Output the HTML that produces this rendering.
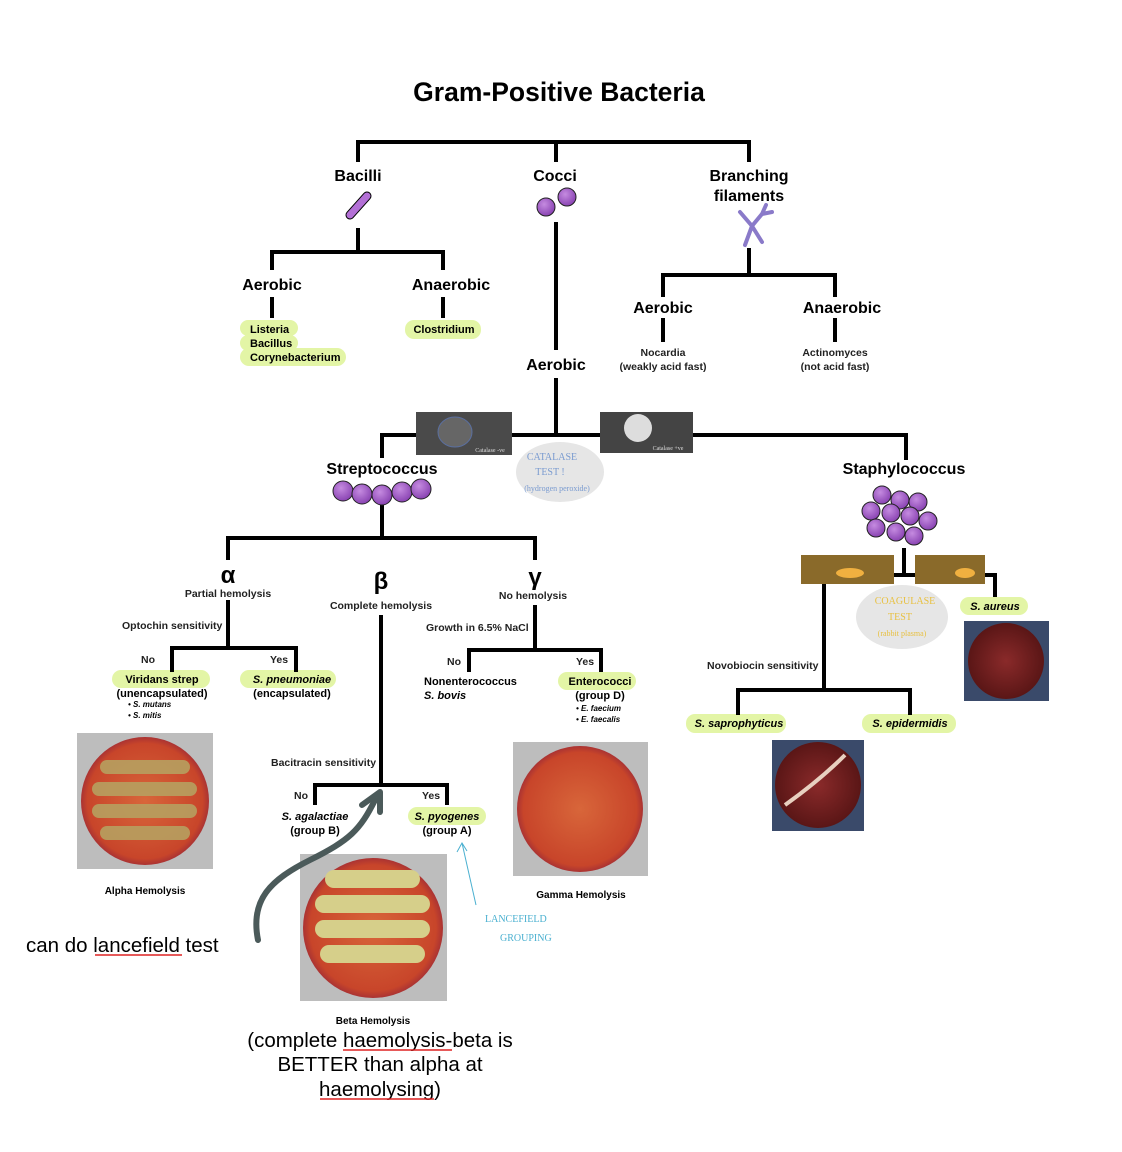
<!DOCTYPE html>
<html><head><meta charset="utf-8"><style>
html,body{margin:0;padding:0;background:#fff;}
svg{display:block;font-family:"Liberation Sans",sans-serif;}
.b{font-weight:bold;}
</style></head><body>
<svg width="1122" height="1152" viewBox="0 0 1122 1152" xmlns="http://www.w3.org/2000/svg">
<defs>
<radialGradient id="p" cx="40%" cy="35%" r="65%"><stop offset="0" stop-color="#c58be0"/><stop offset="1" stop-color="#8a44b3"/></radialGradient>
<radialGradient id="dish" cx="50%" cy="50%" r="50%"><stop offset="0" stop-color="#d8663a"/><stop offset="0.9" stop-color="#c8452a"/><stop offset="1" stop-color="#a33"/></radialGradient>
<radialGradient id="dish2" cx="50%" cy="50%" r="50%"><stop offset="0" stop-color="#8a2a2a"/><stop offset="1" stop-color="#5a1616"/></radialGradient>
</defs>
<g fill="#e3f5a6">
<rect x="240" y="320" width="58" height="16" rx="8"/><rect x="240" y="335" width="58" height="16" rx="8"/><rect x="240" y="348" width="106" height="18" rx="9"/>
<rect x="405" y="320" width="76" height="19" rx="9"/>
<rect x="112" y="670" width="98" height="18" rx="9"/>
<rect x="240" y="670" width="96" height="18" rx="9"/>
<rect x="558" y="672" width="78" height="18" rx="9"/>
<rect x="408" y="807" width="78" height="18" rx="9"/>
<rect x="686" y="714" width="100" height="19" rx="9"/>
<rect x="862" y="714" width="94" height="19" rx="9"/>
<rect x="960" y="597" width="68" height="18" rx="9"/>
</g>
<g fill="#e6e6e6">
<ellipse cx="560" cy="472" rx="44" ry="30"/>
<ellipse cx="902" cy="617" rx="46" ry="32"/>
</g>
<text x="559" y="101" text-anchor="middle" class="b" font-size="26.5">Gram-Positive Bacteria</text>
<g stroke="#000" stroke-width="4" fill="none">
<path d="M358 162V142H749V162M556 142V162"/>
<path d="M358 228V252M272 270V252H443V270M272 297V318M443 297V318"/>
<path d="M556 222V350M556 378V435"/>
<path d="M749 248V275M663 297V275H835V297M663 318V342M835 318V342"/>
<path d="M382 458V435H906V460"/>
<path d="M382 505V538M228 560V538H535V560"/>
<path d="M228 600V648M172 672V648H296V672"/>
<path d="M381 615V785M315 805V785H447V805"/>
<path d="M535 605V650M469 672V650H601V672"/>
<path d="M904 548V575M894 575H915M985 575H995V597"/>
<path d="M824 584V690M738 715V690H910V715"/>
</g>
<g font-size="16" class="b" text-anchor="middle">
<text x="358" y="181">Bacilli</text><text x="555" y="181">Cocci</text>
<text x="749" y="181">Branching</text><text x="749" y="201">filaments</text>
<text x="272" y="290">Aerobic</text><text x="451" y="290">Anaerobic</text>
<text x="556" y="370">Aerobic</text>
<text x="663" y="313">Aerobic</text><text x="842" y="313">Anaerobic</text>
<text x="382" y="474">Streptococcus</text><text x="904" y="474">Staphylococcus</text>
</g>
<g font-size="11" class="b">
<text x="250" y="333">Listeria</text><text x="250" y="347">Bacillus</text><text x="250" y="361">Corynebacterium</text>
<text x="444" y="333" text-anchor="middle">Clostridium</text>
</g>
<g font-size="10.5" text-anchor="middle" class="b" fill="#222">
<text x="663" y="356">Nocardia</text><text x="663" y="370">(weakly acid fast)</text>
<text x="835" y="356">Actinomyces</text><text x="835" y="370">(not acid fast)</text>
</g>
<line x1="350" y1="215" x2="367" y2="196" stroke="#000" stroke-width="9" stroke-linecap="round"/>
<line x1="350" y1="215" x2="367" y2="196" stroke="#b370d6" stroke-width="7" stroke-linecap="round"/>
<g fill="url(#p)" stroke="#222" stroke-width="1">
<circle cx="546" cy="207" r="9"/><circle cx="567" cy="197" r="9"/>
<circle cx="343" cy="491" r="10"/><circle cx="362" cy="494" r="10"/><circle cx="382" cy="495" r="10"/><circle cx="402" cy="492" r="10"/><circle cx="421" cy="489" r="10"/>
<circle cx="882" cy="495" r="9"/><circle cx="900" cy="500" r="9"/><circle cx="918" cy="502" r="9"/>
<circle cx="871" cy="511" r="9"/><circle cx="891" cy="513" r="9"/><circle cx="910" cy="516" r="9"/><circle cx="928" cy="521" r="9"/>
<circle cx="876" cy="528" r="9"/><circle cx="896" cy="532" r="9"/><circle cx="914" cy="536" r="9"/>
</g>
<path d="M740 212L752 226L745 245M752 226L762 242M752 226L762 214L772 212M762 214L766 205" stroke="#8a7ac9" stroke-width="4" fill="none" stroke-linecap="round"/>
<rect x="416" y="412" width="96" height="43" fill="#4a4a4a"/><ellipse cx="455" cy="432" rx="17" ry="15" fill="#666" stroke="#5a6fa0"/>
<text x="490" y="452" font-size="6" fill="#ddd" text-anchor="middle" font-family="Liberation Serif">Catalase -ve</text>
<rect x="600" y="412" width="93" height="41" fill="#444"/><circle cx="638" cy="428" r="14" fill="#ddd"/>
<text x="668" y="450" font-size="6" fill="#ddd" text-anchor="middle" font-family="Liberation Serif">Catalase +ve</text>
<g fill="#7a9bd0" font-size="10" text-anchor="middle" font-family="Liberation Serif">
<text x="552" y="460">CATALASE</text><text x="550" y="475">TEST !</text><text x="557" y="491" font-size="8">(hydrogen peroxide)</text>
</g>
<g fill="#e8c040" font-size="10" text-anchor="middle" font-family="Liberation Serif">
<text x="905" y="604">COAGULASE</text><text x="900" y="620">TEST</text><text x="902" y="636" font-size="8">(rabbit plasma)</text>
</g>
<rect x="801" y="555" width="93" height="29" fill="#8a6a2a"/><ellipse cx="850" cy="573" rx="14" ry="5" fill="#f0b040"/>
<rect x="915" y="555" width="70" height="29" fill="#8a6a2a"/><ellipse cx="965" cy="573" rx="10" ry="5" fill="#f0b040"/>
<g font-size="24" text-anchor="middle" class="b">
<text x="228" y="583">α</text><text x="381" y="589">β</text><text x="535" y="585">γ</text>
</g>
<g font-size="10.5" class="b" fill="#222">
<text x="228" y="597" text-anchor="middle">Partial hemolysis</text>
<text x="381" y="609" text-anchor="middle">Complete hemolysis</text>
<text x="533" y="599" text-anchor="middle">No hemolysis</text>
<text x="122" y="629">Optochin sensitivity</text>
<text x="426" y="631">Growth in 6.5% NaCl</text>
<text x="271" y="766">Bacitracin sensitivity</text>
<text x="707" y="669">Novobiocin sensitivity</text>
<text x="141" y="663">No</text><text x="270" y="663">Yes</text>
<text x="447" y="665">No</text><text x="576" y="665">Yes</text>
<text x="294" y="799">No</text><text x="422" y="799">Yes</text>
</g>
<g font-size="11" class="b" text-anchor="middle">
<text x="162" y="683">Viridans strep</text><text x="162" y="697">(unencapsulated)</text>
<text x="292" y="683" font-style="italic">S. pneumoniae</text><text x="292" y="697">(encapsulated)</text>
<text x="600" y="685">Enterococci</text><text x="600" y="699">(group D)</text>
<text x="315" y="820" font-style="italic">S. agalactiae</text><text x="315" y="834">(group B)</text>
<text x="447" y="820" font-style="italic">S. pyogenes</text><text x="447" y="834">(group A)</text>
<text x="739" y="727" font-style="italic">S. saprophyticus</text>
<text x="910" y="727" font-style="italic">S. epidermidis</text>
<text x="995" y="610" font-style="italic">S. aureus</text>
</g>
<g font-size="11" class="b">
<text x="424" y="685">Nonenterococcus</text><text x="424" y="699" font-style="italic">S. bovis</text>
</g>
<g font-size="8" class="b" font-style="italic">
<text x="128" y="707">• S. mutans</text><text x="128" y="718">• S. mitis</text>
<text x="576" y="711">• E. faecium</text><text x="576" y="722">• E. faecalis</text>
</g>
<rect x="77" y="733" width="136" height="136" fill="#bdbdbd"/><circle cx="145" cy="801" r="64" fill="url(#dish)"/>
<g fill="#b7a060" opacity="0.9"><rect x="100" y="760" width="90" height="14" rx="7"/><rect x="92" y="782" width="105" height="14" rx="7"/><rect x="92" y="804" width="105" height="14" rx="7"/><rect x="100" y="826" width="90" height="14" rx="7"/></g>
<rect x="513" y="742" width="135" height="134" fill="#bdbdbd"/><circle cx="580" cy="809" r="63" fill="url(#dish)"/>
<rect x="300" y="854" width="147" height="147" fill="#bdbdbd"/><circle cx="373" cy="928" r="70" fill="url(#dish)"/>
<g fill="#d6cf8a"><rect x="325" y="870" width="95" height="18" rx="9"/><rect x="315" y="895" width="115" height="18" rx="9"/><rect x="315" y="920" width="115" height="18" rx="9"/><rect x="320" y="945" width="105" height="18" rx="9"/></g>
<rect x="964" y="621" width="85" height="80" fill="#3a4a6a"/><circle cx="1006" cy="661" r="38" fill="url(#dish2)"/>
<rect x="772" y="740" width="92" height="91" fill="#3a4a6a"/><circle cx="818" cy="785" r="43" fill="url(#dish2)"/>
<path d="M785 805Q820 780 845 755" stroke="#e8d0c0" stroke-width="4" fill="none"/>
<g font-size="10" class="b" text-anchor="middle">
<text x="145" y="894">Alpha Hemolysis</text><text x="581" y="898">Gamma Hemolysis</text><text x="373" y="1024">Beta Hemolysis</text>
</g>
<path d="M258 940C250 900 270 880 310 860S360 830 375 800" stroke="#4b5a5a" stroke-width="6" fill="none" stroke-linecap="round"/>
<path d="M362 805L380 792L380 812" stroke="#4b5a5a" stroke-width="6" fill="none" stroke-linecap="round" stroke-linejoin="round"/>
<path d="M476 905L462 843M457 852L462 843L467 851" stroke="#4ab0d0" stroke-width="1" fill="none"/>
<g fill="#4ab0d0" font-size="10" font-family="Liberation Serif"><text x="485" y="922">LANCEFIELD</text><text x="500" y="941">GROUPING</text></g>
<g font-size="20.5">
<text x="26" y="952">can do lancefield test</text>
<text x="380" y="1047" text-anchor="middle">(complete haemolysis-beta is</text>
<text x="380" y="1071" text-anchor="middle">BETTER than alpha at</text>
<text x="380" y="1096" text-anchor="middle">haemolysing)</text>
</g>
<g stroke="#d22" stroke-width="1.5"><line x1="95" y1="955" x2="182" y2="955"/><line x1="343" y1="1050" x2="452" y2="1050"/><line x1="320" y1="1099" x2="434" y2="1099"/></g>
</svg>
</body></html>
